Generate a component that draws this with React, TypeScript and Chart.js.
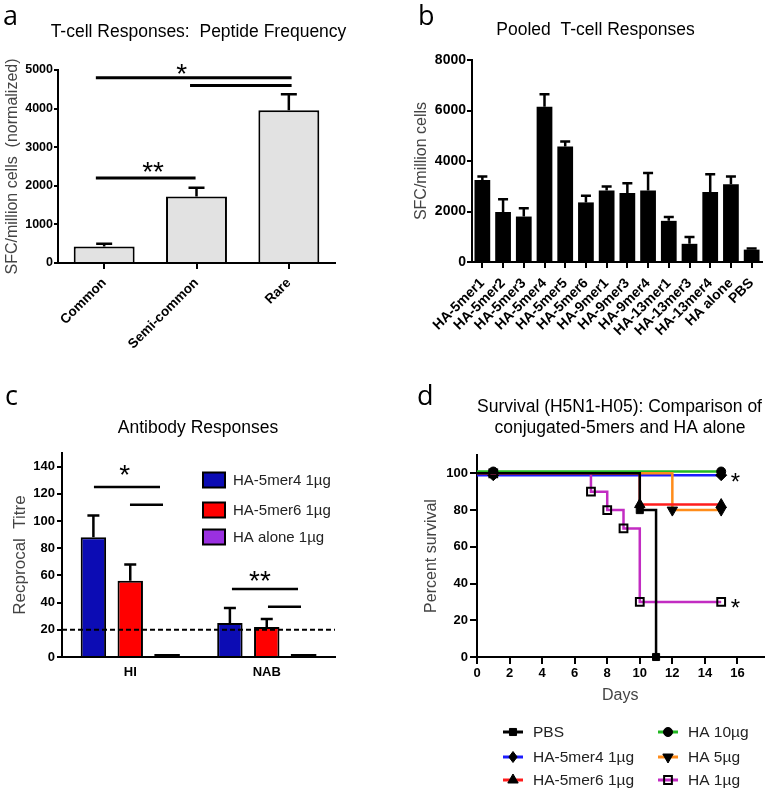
import React, { useEffect, useRef } from "react";
import { Chart, registerables } from "chart.js";
Chart.register(...registerables);

const SANS = "'Liberation Sans', Arial, Helvetica, sans-serif";
const LETTER = "'Open Sans', 'DejaVu Sans', sans-serif";

// ---------- Panel a: peptide frequency ----------
const freqCategories = ["Common", "Semi-common", "Rare"];
const freqMeans = [430, 1720, 3960];
const freqErrors = [70, 230, 410];
const freqSigX1 = [-0.09, 0.93, -0.09];
const freqSigX2 = [2.03, 2.03, 0.99];
const freqSigY = [4800, 4600, 2200];
const freqStarX = [0.84, 0.53];
const freqStarY = [5080, 2540];
const freqStarText = ["*", "**"];

// ---------- Panel b: pooled responses ----------
const pooledCategories = [
  "HA-5mer1", "HA-5mer2", "HA-5mer3", "HA-5mer4", "HA-5mer5", "HA-5mer6",
  "HA-9mer1", "HA-9mer3", "HA-9mer4", "HA-13mer1", "HA-13mer3", "HA-13mer4",
  "HA alone", "PBS",
];
const pooledMeans = [3250, 1980, 1800, 6150, 4570, 2360, 2830, 2730, 2830, 1630, 720, 2770, 3080, 490];
const pooledErrors = [140, 510, 330, 490, 200, 260, 160, 390, 690, 150, 270, 710, 310, 40];

// ---------- Panel c: antibody responses ----------
const antibodyCategories = ["HI", "NAB"];
const antibodySeries = ["HA-5mer4 1µg", "HA-5mer6 1µg", "HA alone 1µg"];
const titre5mer4 = [88, 25];
const titre5mer4Err = [16, 11];
const titre5mer6 = [56, 22];
const titre5mer6Err = [12, 6];
const titreHAalone = [0, 0];
const titreThreshold = 20;
const abSigX1 = [-0.266, -0.002, 0.745, 1.009];
const abSigX2 = [0.218, 0.24, 1.229, 1.251];
const abSigY = [125, 112, 50, 37];
const abStarX = [-0.04, 0.95];
const abStarY = [139, 61];
const abStarText = ["*", "**"];

// ---------- Panel d: survival ----------
const survivalNames = ["PBS", "HA-5mer4 1µg", "HA-5mer6 1µg", "HA 10µg", "HA 5µg", "HA 1µg"];
const pbsDays = [0, 10, 11];
const pbsSurvival = [100, 80, 0];
const mer4Days = [0, 1, 15];
const mer4Survival = [99, 99, 99];
const mer6Days = [0, 10, 15];
const mer6Survival = [100, 83, 83];
const ha10Days = [0, 1, 15];
const ha10Survival = [101, 101, 101];
const ha5Days = [0, 12, 15];
const ha5Survival = [100, 80, 80];
const ha1Days = [0, 1, 7, 8, 9, 10, 15];
const ha1Survival = [100, 100, 90, 80, 70, 30, 30];
const survStarX = [15.88, 15.88];
const survStarY = [98.4, 30];

// ---------- helpers ----------
function text(ctx: CanvasRenderingContext2D, s: string, x: number, y: number, font: string, align: CanvasTextAlign = "center", baseline: CanvasTextBaseline = "alphabetic", color = "#000") {
  ctx.save();
  ctx.font = font;
  ctx.fillStyle = color;
  ctx.textAlign = align;
  ctx.textBaseline = baseline;
  ctx.fillText(s, x, y);
  ctx.restore();
}

function drawErrors(chart: any, dsIndex: number, errors: number[], capHalf: number, lw: number) {
  const ctx = chart.ctx as CanvasRenderingContext2D;
  const y = chart.scales.y;
  const meta = chart.getDatasetMeta(dsIndex);
  const values = chart.data.datasets[dsIndex].data as number[];
  ctx.save();
  ctx.strokeStyle = "#000";
  ctx.lineWidth = lw;
  meta.data.forEach((bar: any, i: number) => {
    const e = errors[i];
    if (!e) return;
    const top = y.getPixelForValue(values[i] + e);
    ctx.beginPath();
    ctx.moveTo(bar.x, bar.y);
    ctx.lineTo(bar.x, top);
    ctx.moveTo(bar.x - capHalf, top);
    ctx.lineTo(bar.x + capHalf, top);
    ctx.stroke();
  });
  ctx.restore();
}

function drawSig(chart: any, x1: number[], x2: number[], yv: number[], sx: number[], sy: number[], st: string[], starSize: number, lw: number) {
  const ctx = chart.ctx as CanvasRenderingContext2D;
  const { x, y } = chart.scales;
  ctx.save();
  ctx.strokeStyle = "#000";
  ctx.lineWidth = lw;
  for (let i = 0; i < x1.length; i++) {
    const py = y.getPixelForValue(yv[i]);
    ctx.beginPath();
    ctx.moveTo(x.getPixelForValue(x1[i]), py);
    ctx.lineTo(x.getPixelForValue(x2[i]), py);
    ctx.stroke();
  }
  ctx.restore();
  for (let j = 0; j < sx.length; j++) {
    text(ctx, st[j], x.getPixelForValue(sx[j]), y.getPixelForValue(sy[j]) + 0.58 * starSize, `${starSize}px ${SANS}`);
  }
}

function drawMarker(ctx: CanvasRenderingContext2D, style: string, rot: number, x: number, y: number, r: number, fill: string, stroke: string, lw: number) {
  ctx.save();
  ctx.beginPath();
  if (style === "rect") {
    const s = r * Math.SQRT1_2;
    ctx.rect(x - s, y - s, 2 * s, 2 * s);
  } else if (style === "rectRot") {
    ctx.moveTo(x, y - r);
    ctx.lineTo(x + r * 0.75, y);
    ctx.lineTo(x, y + r);
    ctx.lineTo(x - r * 0.75, y);
    ctx.closePath();
  } else if (style === "circle") {
    ctx.arc(x, y, r, 0, Math.PI * 2);
  } else {
    const d = rot === 180 ? -1 : 1;
    ctx.moveTo(x, y - d * r);
    ctx.lineTo(x + r * 0.866, y + d * r * 0.5);
    ctx.lineTo(x - r * 0.866, y + d * r * 0.5);
    ctx.closePath();
  }
  ctx.fillStyle = fill;
  ctx.fill();
  ctx.strokeStyle = stroke;
  ctx.lineWidth = lw;
  ctx.stroke();
  ctx.restore();
}

const plainNumber = (v: any) => String(v);
const axisBorder = { display: true, color: "#000", width: 2 };
const tickGrid = (len: number) => ({ display: true, drawOnChartArea: false, drawTicks: true, offset: false, color: "#000", lineWidth: 2, tickLength: len });
const fixWidth = (w: number) => (s: any) => { s.width = w; s.paddingTop = 0; s.paddingBottom = 0; };
const fixHeight = (h: number) => (s: any) => { s.height = h; s.paddingLeft = 0; s.paddingRight = 0; };
const baseOptions = { responsive: false, animation: false, devicePixelRatio: 1, events: [] as any[] };
const noPlugins = { legend: { display: false }, tooltip: { enabled: false }, title: { display: false } };

// ---------- builders ----------
function buildA(): any {
  return {
    type: "bar",
    data: {
      labels: freqCategories,
      datasets: [{ data: freqMeans, backgroundColor: "#e2e2e2", borderColor: "#000", borderWidth: 2, borderSkipped: "bottom", barPercentage: 0.66, categoryPercentage: 1 }],
    },
    options: {
      ...baseOptions,
      layout: { padding: { top: 70, right: 50, left: 0, bottom: 0 } },
      plugins: noPlugins,
      scales: {
        x: {
          grid: tickGrid(6), border: axisBorder,
          ticks: { color: "#000", font: { family: SANS, size: 13.5, weight: "bold" }, minRotation: 45, maxRotation: 45, autoSkip: false, padding: 6 },
          afterFit: fixHeight(117),
        },
        y: {
          min: 0, max: 5000,
          grid: tickGrid(4), border: axisBorder,
          ticks: { stepSize: 1000, callback: plainNumber, color: "#000", font: { family: SANS, size: 12.5, weight: "bold" }, padding: 1 },
          title: { display: true, text: "SFC/million cells  (normalized)", color: "#444", font: { family: SANS, size: 16, lineHeight: 1.2 }, padding: { top: 3, bottom: 0 } },
          afterFit: fixWidth(58),
        },
      },
    },
    plugins: [{
      id: "decorA",
      afterDraw(chart: any) {
        drawErrors(chart, 0, freqErrors, 8, 2.5);
        drawSig(chart, freqSigX1, freqSigX2, freqSigY, freqStarX, freqStarY, freqStarText, 28, 3);
        text(chart.ctx, "T-cell Responses:  Peptide Frequency", 198.5, 37, `17.5px ${SANS}`);
        text(chart.ctx, "a", 3, 25, `27px ${LETTER}`, "left");
      },
    }],
  };
}

function buildB(): any {
  return {
    type: "bar",
    data: {
      labels: pooledCategories,
      datasets: [{ data: pooledMeans, backgroundColor: "#000", borderWidth: 0, barPercentage: 0.76, categoryPercentage: 1 }],
    },
    options: {
      ...baseOptions,
      layout: { padding: { top: 60, right: 9, left: 0, bottom: 0 } },
      plugins: noPlugins,
      scales: {
        x: {
          grid: tickGrid(6), border: axisBorder,
          ticks: { color: "#000", font: { family: SANS, size: 14, weight: "bold" }, minRotation: 45, maxRotation: 45, autoSkip: false, padding: 7 },
          afterFit: fixHeight(118),
        },
        y: {
          min: 0, max: 8000,
          grid: tickGrid(5), border: axisBorder,
          ticks: { stepSize: 2000, callback: plainNumber, color: "#000", font: { family: SANS, size: 14, weight: "bold" }, padding: 1 },
          title: { display: true, text: "SFC/million cells", color: "#444", font: { family: SANS, size: 16, lineHeight: 1.2 }, padding: { top: 27, bottom: 0 } },
          afterFit: fixWidth(87),
        },
      },
    },
    plugins: [{
      id: "decorB",
      afterDraw(chart: any) {
        drawErrors(chart, 0, pooledErrors, 5, 2.5);
        text(chart.ctx, "Pooled  T-cell Responses", 210.5, 35, `17.5px ${SANS}`);
        text(chart.ctx, "b", 33, 25, `27px ${LETTER}`, "left");
      },
    }],
  };
}

const abColors = ["#0c0cb4", "#ff0000", "#9a30e0"];

function buildC(): any {
  const ds = (data: number[], color: string) => ({ data, backgroundColor: color, borderColor: "#000", borderWidth: 2, borderSkipped: "bottom", barPercentage: 0.69, categoryPercentage: 0.81 });
  return {
    type: "bar",
    data: {
      labels: antibodyCategories,
      datasets: [ds(titre5mer4, abColors[0]), ds(titre5mer6, abColors[1]), ds(titreHAalone, abColors[2])],
    },
    options: {
      ...baseOptions,
      layout: { padding: { top: 73, right: 50, left: 0, bottom: 0 } },
      plugins: noPlugins,
      scales: {
        x: {
          grid: { display: false, drawTicks: false }, border: axisBorder,
          ticks: { color: "#000", font: { family: SANS, size: 13, weight: "bold" }, padding: 8 },
          afterFit: fixHeight(137),
        },
        y: {
          min: 0, max: 150,
          grid: tickGrid(5), border: axisBorder,
          ticks: { stepSize: 20, callback: plainNumber, color: "#000", font: { family: SANS, size: 13, weight: "bold" }, padding: 2, includeBounds: false },
          afterBuildTicks: (s: any) => { s.ticks = s.ticks.filter((t: any) => t.value <= 140); },
          title: { display: true, text: "Recprocal  Titre", color: "#444", font: { family: SANS, size: 17, lineHeight: 1.2 }, padding: { top: 10, bottom: 0 } },
          afterFit: fixWidth(62),
        },
      },
    },
    plugins: [{
      id: "decorC",
      afterDraw(chart: any) {
        const ctx = chart.ctx as CanvasRenderingContext2D;
        const { chartArea, scales } = chart;
        drawErrors(chart, 0, titre5mer4Err, 6, 2.5);
        drawErrors(chart, 1, titre5mer6Err, 6, 2.5);
        // zero-height bars: outline only
        const zeroMeta = chart.getDatasetMeta(2);
        ctx.save();
        ctx.strokeStyle = "#000";
        ctx.lineWidth = 2;
        zeroMeta.data.forEach((bar: any) => {
          ctx.beginPath();
          ctx.moveTo(bar.x - bar.width / 2, bar.y - 2);
          ctx.lineTo(bar.x + bar.width / 2, bar.y - 2);
          ctx.stroke();
        });
        ctx.restore();
        // detection threshold
        const ty = scales.y.getPixelForValue(titreThreshold);
        ctx.save();
        ctx.strokeStyle = "#000";
        ctx.lineWidth = 2;
        ctx.setLineDash([5, 3]);
        ctx.beginPath();
        ctx.moveTo(chartArea.left, ty);
        ctx.lineTo(chartArea.right, ty);
        ctx.stroke();
        ctx.restore();
        drawSig(chart, abSigX1, abSigX2, abSigY, abStarX, abStarY, abStarText, 28, 2.5);
        // legend
        const rows = [100, 130, 157];
        antibodySeries.forEach((name, i) => {
          ctx.save();
          ctx.fillStyle = abColors[i];
          ctx.strokeStyle = "#000";
          ctx.lineWidth = 2;
          ctx.fillRect(203, rows[i] - 7.5, 22, 15);
          ctx.strokeRect(203, rows[i] - 7.5, 22, 15);
          ctx.restore();
          text(ctx, name, 233, rows[i] + 1, `15px ${SANS}`, "left", "middle", "#222");
        });
        text(ctx, "Antibody Responses", 198, 53, `17.5px ${SANS}`);
        text(ctx, "c", 5, 25, `27px ${LETTER}`, "left");
      },
    }],
  };
}

const survColors = ["#000000", "#1c1cff", "#ff1c1c", "#22b822", "#ff8c1a", "#c22cc2"];
const survStyles = ["rect", "rectRot", "triangle", "circle", "triangle", "rect"];
const survRot = [0, 0, 0, 0, 180, 0];
const survRadius = [5, 5.5, 6, 4.5, 6, 5.5];

function buildD(): any {
  const days = [pbsDays, mer4Days, mer6Days, ha10Days, ha5Days, ha1Days];
  const surv = [pbsSurvival, mer4Survival, mer6Survival, ha10Survival, ha5Survival, ha1Survival];
  const drawOrder = [0, 5, 2, 4, 1, 3];
  const datasets = drawOrder.map((k) => ({
    label: survivalNames[k],
    data: days[k].map((d, i) => ({ x: d, y: surv[k][i] })),
    borderColor: survColors[k],
    borderWidth: 2.5,
    stepped: "before",
    fill: false,
    clip: false,
    pointStyle: survStyles[k],
    pointRotation: survRot[k],
    pointRadius: days[k].map((d, i) => (i === 0 ? 0 : survRadius[k])),
    pointBackgroundColor: k === 5 ? "rgba(0,0,0,0)" : "#000",
    pointBorderColor: "#000",
    pointBorderWidth: k === 5 ? 2 : 1,
  }));
  return {
    type: "line",
    data: { datasets },
    options: {
      ...baseOptions,
      layout: { padding: { top: 75, right: 6, left: 0, bottom: 0 } },
      plugins: noPlugins,
      scales: {
        x: {
          type: "linear", min: 0, max: 17.6,
          grid: tickGrid(7), border: axisBorder,
          ticks: { stepSize: 2, color: "#000", font: { family: SANS, size: 13, weight: "bold" }, padding: 2, includeBounds: false },
          afterBuildTicks: (s: any) => { s.ticks = s.ticks.filter((t: any) => t.value <= 16); },
          title: { display: true, text: "Days", color: "#444", font: { family: SANS, size: 16, lineHeight: 1.2 }, padding: { top: 0, bottom: 89 } },
          afterFit: fixHeight(137),
        },
        y: {
          type: "linear", min: 0, max: 110,
          grid: tickGrid(7), border: axisBorder,
          ticks: { stepSize: 20, color: "#000", font: { family: SANS, size: 13, weight: "bold" }, padding: 2, includeBounds: false },
          afterBuildTicks: (s: any) => { s.ticks = s.ticks.filter((t: any) => t.value <= 100); },
          title: { display: true, text: "Percent survival", color: "#444", font: { family: SANS, size: 16, lineHeight: 1.2 }, padding: { top: 37, bottom: 0 } },
          afterFit: fixWidth(92),
        },
      },
    },
    plugins: [{
      id: "decorD",
      afterDraw(chart: any) {
        const ctx = chart.ctx as CanvasRenderingContext2D;
        const { x, y } = chart.scales;
        for (let j = 0; j < survStarX.length; j++) {
          text(ctx, "*", x.getPixelForValue(survStarX[j]), y.getPixelForValue(survStarY[j]) + 0.58 * 24, `24px ${SANS}`);
        }
        // legend, two columns
        const rows = [352, 377, 400];
        const cols = [128, 283];
        survivalNames.forEach((name, k) => {
          const cx = cols[Math.floor(k / 3)];
          const cy = rows[k % 3];
          ctx.save();
          ctx.strokeStyle = survColors[k];
          ctx.lineWidth = 3;
          ctx.beginPath();
          ctx.moveTo(cx - 10, cy);
          ctx.lineTo(cx + 10, cy);
          ctx.stroke();
          ctx.restore();
          drawMarker(ctx, survStyles[k], survRot[k], cx, cy, survRadius[k], k === 5 ? "rgba(0,0,0,0)" : "#000", "#000", k === 5 ? 2 : 1);
          text(ctx, name, cx + 20, cy + 1, `15.5px ${SANS}`, "left", "middle", "#222");
        });
        text(ctx, "Survival (H5N1-H05): Comparison of", 234.5, 32, `17.5px ${SANS}`);
        text(ctx, "conjugated-5mers and HA alone", 235, 53, `17.5px ${SANS}`);
        text(ctx, "d", 32, 25, `27px ${LETTER}`, "left");
      },
    }],
  };
}

function ChartPanel({ left, top, width, height, build }: { left: number; top: number; width: number; height: number; build: () => any }) {
  const ref = useRef<HTMLCanvasElement>(null);
  useEffect(() => {
    const chart = new Chart(ref.current as HTMLCanvasElement, build());
    return () => chart.destroy();
  }, []);
  return (
    <canvas
      ref={ref}
      width={width}
      height={height}
      style={{ position: "absolute", left, top, width, height, display: "block" }}
    />
  );
}

export default function App() {
  return (
    <div style={{ position: "absolute", left: 0, top: 0, width: 771, height: 794, background: "#fff", overflow: "hidden" }}>
      <ChartPanel left={0} top={0} width={385} height={380} build={buildA} />
      <ChartPanel left={385} top={0} width={386} height={380} build={buildB} />
      <ChartPanel left={0} top={380} width={385} height={414} build={buildC} />
      <ChartPanel left={385} top={380} width={386} height={414} build={buildD} />
    </div>
  );
}
